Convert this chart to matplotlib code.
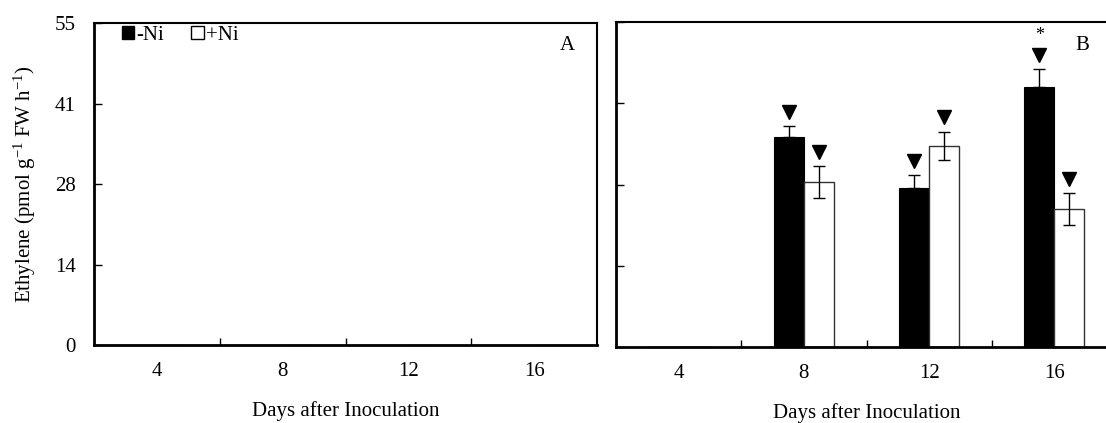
import numpy as np
import matplotlib
matplotlib.use("Agg")
import matplotlib.pyplot as plt
from matplotlib.patches import Patch

plt.rcParams['font.family'] = ['Liberation Serif', 'DejaVu Serif']
plt.rcParams['mathtext.fontset'] = 'custom'
plt.rcParams['mathtext.rm'] = 'Liberation Serif'
plt.rcParams['mathtext.it'] = 'Liberation Serif:italic'

days = ["4", "8", "12", "16"]

# panel A (no ethylene detected)
a_minus = [0, 0, 0, 0]
a_plus = [0, 0, 0, 0]
a_minus_err = [0, 0, 0, 0]
a_plus_err = [0, 0, 0, 0]

# panel B
b_minus = [0, 35.6, 27.0, 44.0]
b_plus = [0, 28.0, 34.1, 23.3]
b_minus_err = [0, 1.8, 2.1, 3.1]
b_plus_err = [0, 2.7, 2.4, 2.7]
b_minus_tri = [False, True, True, True]
b_plus_tri = [False, True, True, True]
b_minus_star = [False, False, False, True]

y_ticks = [0, 13.75, 27.5, 41.25, 55]
y_labels = ["0", "14", "28", "41", "55"]

fig = plt.figure(figsize=(11.06, 4.23), dpi=100)
axA = fig.add_axes([0.085, 0.1844, 0.4548, 0.7612])
axB = fig.add_axes([0.557, 0.1797, 0.453, 0.7676])

width = 0.24


def draw_panel(ax, minus, plus, minus_err, plus_err, letter, letter_x, show_ylabels):
    x = np.arange(len(days))
    ax.bar(x - width / 2, minus, width, color='black', edgecolor='black', linewidth=0.8, zorder=2)
    ax.bar(x + width / 2, plus, width, color='white', edgecolor='#333333', linewidth=1.0, zorder=2)
    for xi, v, e in zip(x - width / 2, minus, minus_err):
        if v > 0:
            ax.errorbar(xi, v, yerr=[[0], [e]], color='black', capsize=4, elinewidth=1, capthick=1, zorder=3)
    for xi, v, e in zip(x + width / 2, plus, plus_err):
        if v > 0:
            ax.errorbar(xi, v, yerr=e, color='black', capsize=4, elinewidth=1, capthick=1, zorder=3)

    ax.set_xlim(-0.5, len(days) - 0.5)
    ax.set_ylim(0, 55)
    ax.set_yticks(y_ticks)
    if show_ylabels:
        ax.set_yticklabels(y_labels, fontsize=15)
    else:
        ax.set_yticklabels([])
    ax.tick_params(axis='y', direction='in', length=6, width=1, pad=13)
    ax.set_xticks(x)
    ax.set_xticklabels(days, fontsize=15)
    ax.tick_params(axis='x', which='major', length=0, pad=12)
    ax.set_xticks(np.arange(len(days) - 1) + 0.5, minor=True)
    ax.tick_params(axis='x', which='minor', direction='in', length=5, width=1)
    ax.set_xlabel("Days after Inoculation", fontsize=15, labelpad=15)
    for s in ['left', 'bottom']:
        ax.spines[s].set_linewidth(2)
    for s in ['top', 'right']:
        ax.spines[s].set_linewidth(1.5)
    ax.text(letter_x, 0.93, letter, transform=ax.transAxes, fontsize=15, ha='center', va='center')


draw_panel(axA, a_minus, a_plus, a_minus_err, a_plus_err, "A", 0.942, True)
draw_panel(axB, b_minus, b_plus, b_minus_err, b_plus_err, "B", 0.93, False)

axA.set_ylabel("Ethylene (pmol g$^{\\mathregular{-1}}$ FW h$^{\\mathregular{-1}}$)", fontsize=15, labelpad=12)

# markers above bars in panel B
x = np.arange(len(days))
for xi, v, e, t in zip(x - width / 2, b_minus, b_minus_err, b_minus_tri):
    if t:
        axB.plot(xi, v + e + 2.4, marker='v', color='black', markersize=10, zorder=4)
for xi, v, e, t in zip(x + width / 2, b_plus, b_plus_err, b_plus_tri):
    if t:
        axB.plot(xi, v + e + 2.4, marker='v', color='black', markersize=10, zorder=4)
for xi, v, e, s in zip(x - width / 2, b_minus, b_minus_err, b_minus_star):
    if s:
        axB.text(xi, v + e + 5.6, "*", ha='center', va='center', fontsize=13)

handles = [Patch(facecolor='black', edgecolor='black', label='-Ni'),
           Patch(facecolor='white', edgecolor='black', label='+Ni')]
axA.legend(handles=handles, loc='upper left', ncol=2, frameon=False, fontsize=15,
           handlelength=0.6, handleheight=0.6, handletextpad=0.1, columnspacing=1.3,
           bbox_to_anchor=(0.03, 1.03), borderaxespad=0.2)

fig.savefig("out.png", dpi=100)
